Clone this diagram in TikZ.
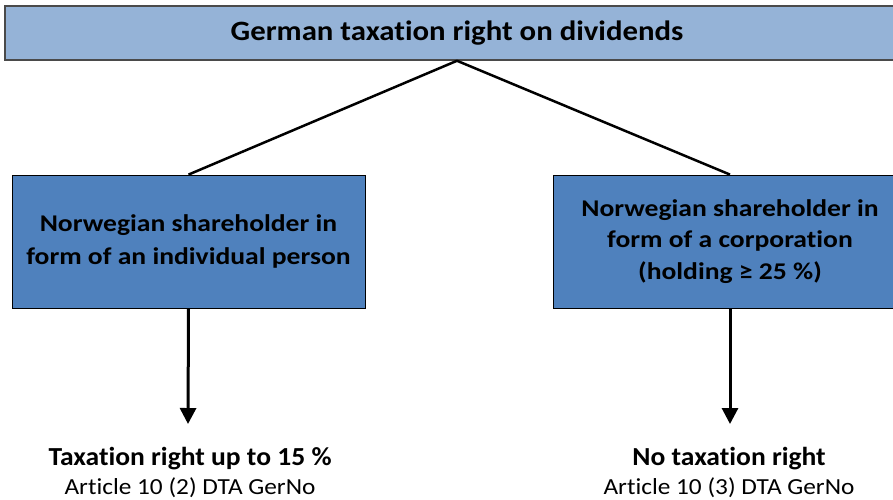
\documentclass[tikz,border=0pt]{standalone}
\usepackage{fontspec}
\setmainfont{Carlito}[Ligatures=CommonOff]
\usepackage{graphicx}
\usetikzlibrary{arrows.meta}
\definecolor{topfill}{HTML}{95B3D7}
\definecolor{boxfill}{HTML}{4F81BD}
\definecolor{topedge}{HTML}{4A4A4A}
\newcommand{\hs}[2]{\scalebox{#1}[1]{#2}}
\begin{document}
\begin{tikzpicture}[x=1pt,y=-1pt,
  topbox/.style={draw=topedge,line width=1.5pt,fill=topfill,minimum width=904pt,minimum height=54pt,inner sep=0pt,font=\fontsize{28}{34}\selectfont\bfseries},
  midbox/.style={draw=black,line width=0.8pt,fill=boxfill,minimum width=353pt,minimum height=133pt,inner sep=0pt,align=center,font=\fontsize{24}{31.5}\selectfont\bfseries},
  branch/.style={draw=black,line width=2.5pt},
  down/.style={draw=black,line width=3pt,-{Triangle[length=16pt,width=16pt]}},
  result/.style={align=center,inner sep=0pt,font=\fontsize{23}{29}\selectfont}
]
\useasboundingbox (0,0) rectangle (893,499);
\clip (0,0) rectangle (893,499);
\node[topbox] (top) at (457,33) {\raisebox{-1pt}{\hs{1.1}{German taxation right on dividends}}};
\node[midbox] (left) at (188.5,241.5) {\raisebox{3pt}{\begin{tabular}{@{}c@{}}\hs{1.15}{Norwegian shareholder in}\\[1.5pt]\hs{1.15}{form of an individual person}\end{tabular}}};
\node[midbox] (right) at (730,241.5) {\hs{1.15}{Norwegian shareholder in}\\\hs{1.15}{form of a corporation}\\\hs{1.15}{(holding ≥ 25 \%)}};
\draw[branch] (top.south) -- (left.north);
\draw[branch] (top.south) -- (right.north);
\coordinate (la) at (188,424);
\coordinate (ra) at (730,424);
\draw[down] (left.south) -- (la);
\draw[down] (right.south) -- (ra);
\node[result] (lres) at (190,472) {\hs{1.06}{\fontsize{26}{29}\selectfont\bfseries Taxation right up to 15 \%}\\\hs{1.1}{Article 10 (2) DTA GerNo}};
\node[result] (rres) at (729,472) {\hs{1.06}{\fontsize{26}{29}\selectfont\bfseries No taxation right}\\\hs{1.1}{Article 10 (3) DTA GerNo}};
\end{tikzpicture}
\end{document}
